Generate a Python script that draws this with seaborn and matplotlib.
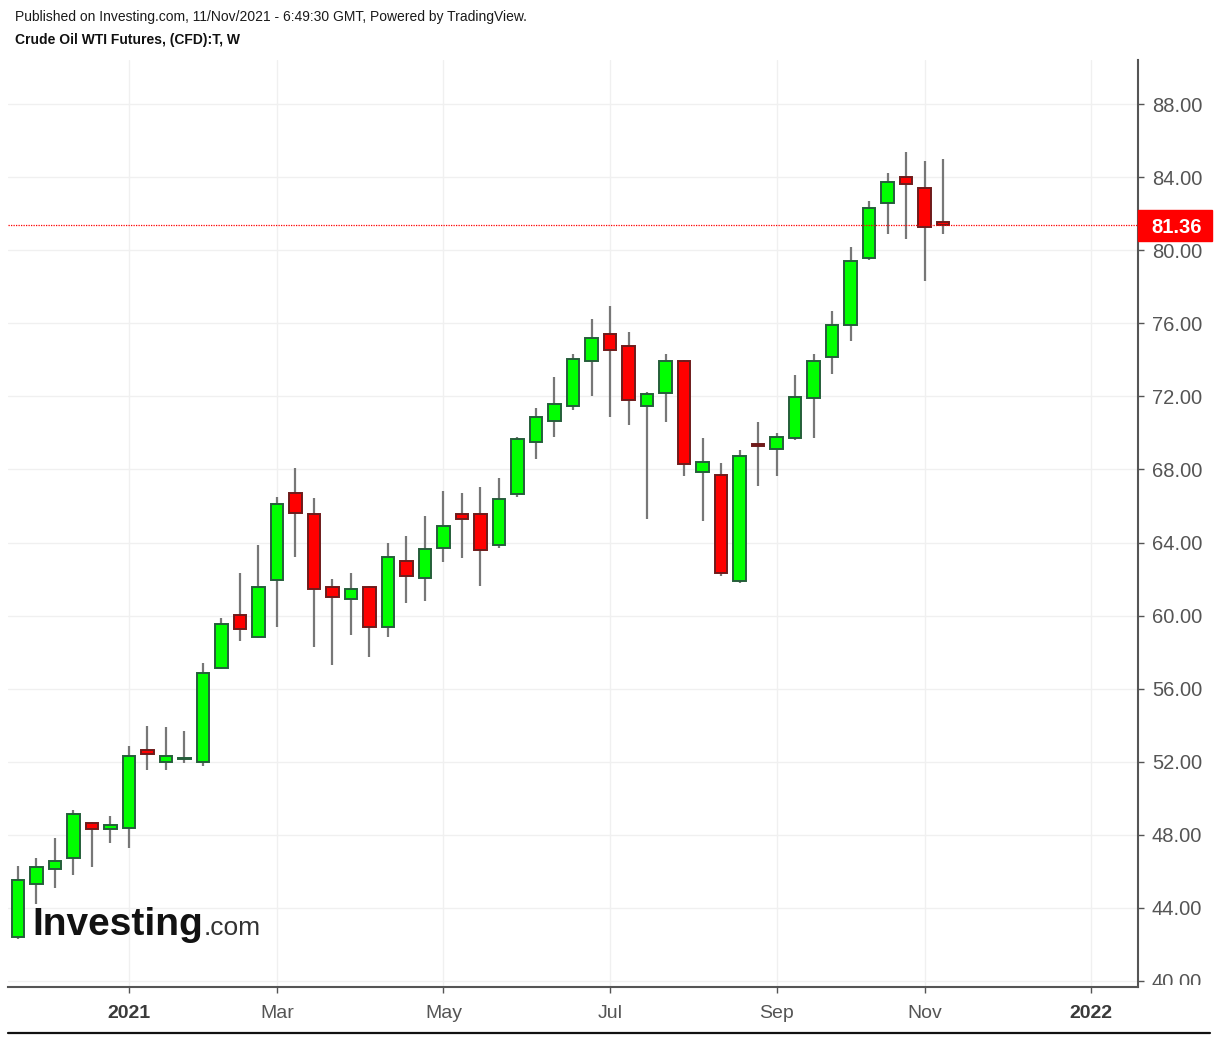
import numpy as np
import pandas as pd
import matplotlib
matplotlib.use("Agg")
import matplotlib.pyplot as plt
import matplotlib.dates as mdates
from matplotlib.patches import Rectangle
from matplotlib.lines import Line2D
import matplotlib.transforms as mtransforms
import seaborn as sns

# ---------------- data (weekly bars) ----------------
week_start = "2020-11-23"
opens = [42.42, 45.31, 46.13, 46.75, 48.63, 48.30, 48.39, 52.64, 51.99, 52.17,
         51.97, 57.11, 60.03, 58.85, 61.95, 66.69, 65.56, 61.58, 60.91, 61.58,
         59.39, 62.99, 62.04, 63.68, 65.56, 65.54, 63.86, 66.65, 69.51, 70.67,
         71.46, 73.95, 75.41, 74.77, 71.47, 72.20, 73.95, 67.88, 67.70, 61.91,
         69.37, 69.12, 69.74, 71.89, 74.14, 75.91, 79.59, 82.56, 84.02, 83.39,
         81.56]
highs = [46.30, 46.72, 47.81, 49.36, 48.70, 49.03, 52.86, 53.97, 53.88, 53.68,
         57.39, 59.85, 62.31, 63.84, 66.51, 68.06, 66.42, 62.00, 62.31, 61.60,
         63.96, 64.36, 65.47, 66.82, 66.69, 67.02, 67.51, 69.79, 71.34, 73.08,
         74.30, 76.23, 76.96, 75.54, 72.25, 74.30, 73.97, 69.70, 68.33, 69.06,
         70.61, 69.97, 73.17, 74.30, 76.66, 80.15, 82.71, 84.25, 85.39, 84.88,
         84.97]
lows = [42.30, 44.20, 45.07, 45.80, 46.22, 47.54, 47.26, 51.55, 51.55, 51.95,
        51.77, 57.05, 58.63, 58.80, 59.36, 63.22, 58.30, 57.30, 58.94, 57.72,
        58.85, 60.67, 60.80, 62.92, 63.14, 61.62, 63.68, 66.51, 68.56, 69.79,
        71.25, 72.04, 70.85, 70.43, 65.29, 70.61, 67.66, 65.19, 62.18, 61.80,
        67.11, 67.64, 69.61, 69.70, 73.21, 75.03, 79.46, 80.87, 80.60, 78.33,
        80.89]
closes = [45.53, 46.26, 46.59, 49.14, 48.30, 48.54, 52.33, 52.41, 52.32, 52.22,
          56.84, 59.52, 59.27, 61.58, 66.09, 65.63, 61.44, 61.03, 61.46, 59.39,
          63.19, 62.17, 63.63, 64.92, 65.29, 63.59, 66.36, 69.65, 70.88, 71.58,
          74.04, 75.17, 74.54, 71.80, 72.11, 73.95, 68.30, 68.43, 62.31, 68.74,
          69.30, 69.76, 71.99, 73.95, 75.91, 79.41, 82.29, 83.71, 83.60, 81.25,
          81.36]
last_price = 81.36
y_ticks = [40, 44, 48, 52, 56, 60, 64, 68, 72, 76, 80, 84, 88]
x_tick_dates = ["2021-01-04", "2021-03-01", "2021-05-03", "2021-07-05",
                "2021-09-06", "2021-11-01", "2022-01-03"]
x_tick_labels = ["2021", "Mar", "May", "Jul", "Sep", "Nov", "2022"]
title_line1 = "Published on Investing.com, 11/Nov/2021 - 6:49:30 GMT, Powered by TradingView."
title_line2 = "Crude Oil WTI Futures, (CFD):T, W"

df = pd.DataFrame({
    "date": pd.date_range(week_start, periods=len(opens), freq="W-MON"),
    "open": opens, "high": highs, "low": lows, "close": closes,
})
df["x"] = mdates.date2num(df["date"])
df["up"] = df["close"] >= df["open"]

# ---------------- style ----------------
sns.set_theme(style="white")
plt.rcParams["font.family"] = ["Liberation Sans", "DejaVu Sans"]

W, H = 1218, 1039
fig = plt.figure(figsize=(W / 100, H / 100), dpi=100)
fig.patch.set_facecolor("white")

ax_l, ax_r, ax_t, ax_b = 8, 1138, 60, 987
ax = fig.add_axes([ax_l / W, 1 - ax_b / H, (ax_r - ax_l) / W, (ax_b - ax_t) / H])
ax.set_facecolor("white")

day_w = 7.0
x0 = df["x"].iloc[0]
ax.set_xlim(x0 - 0.54 * day_w, x0 + 60.54 * day_w)
px_per_unit = (981 - 104) / 48.0
ymin = 40 - (987 - 981) / px_per_unit
ymax = 40 + (981 - 60) / px_per_unit
ax.set_ylim(ymin, ymax)

grid_c = "#f0f0f0"
for yt in y_ticks:
    ax.axhline(yt, color=grid_c, lw=1.0, zorder=0)
xt = mdates.date2num(pd.to_datetime(x_tick_dates))
for xv in xt:
    ax.axvline(xv, color=grid_c, lw=1.0, zorder=0)

# wicks
ax.vlines(df["x"], df["low"], df["high"], color="#777777", lw=1.6, zorder=2)

# bodies
bw = 0.66 * day_w
up = df[df["up"]]
dn = df[~df["up"]]
ax.bar(up["x"], (up["close"] - up["open"]).clip(lower=0.02), bottom=up["open"],
       width=bw, color="#00ff00", edgecolor="#255e3a", linewidth=1.4, zorder=3)
ax.bar(dn["x"], (dn["open"] - dn["close"]).clip(lower=0.02), bottom=dn["close"],
       width=bw, color="#ff0000", edgecolor="#6e1b1b", linewidth=1.4, zorder=3)

# last price dotted line
ax.axhline(last_price, color="#ff0000", lw=0.9, ls=(0, (1, 1)), zorder=4)

# spines
for s in ["top", "left"]:
    ax.spines[s].set_visible(False)
ax.spines["right"].set_color("#555555")
ax.spines["right"].set_linewidth(1.5)
ax.spines["bottom"].set_color("#555555")
ax.spines["bottom"].set_linewidth(1.5)

ax.yaxis.tick_right()
ax.set_yticks(y_ticks)
ax.tick_params(axis="y", which="both", right=True, left=False, length=4,
               width=1, color="#555555", labelright=False, labelleft=False)
ax.set_xticks(xt)
ax.set_xticklabels(x_tick_labels)
ax.tick_params(axis="x", bottom=True, length=4, width=1, color="#555555",
               pad=9, labelsize=14, labelcolor="#555555")
for lbl in ax.get_xticklabels():
    if lbl.get_text() in ("2021", "2022"):
        lbl.set_fontweight("bold")
        lbl.set_color("#3a3a3a")

# price label strip (clipped like the reference)
ax2 = fig.add_axes([ax_r / W, 1 - 985 / H, 80 / W, (985 - ax_t) / H])
ax2.set_ylim(ymin + 2 / px_per_unit, ymax)
ax2.set_xlim(0, 1)
ax2.axis("off")
for yt in y_ticks:
    ax2.text(0.175, yt, f"{yt:.2f}", ha="left", va="center_baseline", fontsize=14.5,
             color="#555555", clip_on=True)
trans = mtransforms.blended_transform_factory(ax2.transAxes, ax2.transData)
box_h = 31 / px_per_unit
ax2.add_patch(Rectangle((0, last_price - box_h / 2), 74 / 80, box_h,
                        transform=trans, color="#ff0000", zorder=5, clip_on=False))
ax2.text(0.48, last_price, f"{last_price:.2f}", ha="center", va="center_baseline",
         fontsize=14.5, fontweight="bold", color="white", zorder=6)

# header texts
fig.text(15 / W, 1 - 17 / H, title_line1, ha="left", va="center",
         fontsize=10, color="#1a1a1a")
fig.text(15 / W, 1 - 40 / H, title_line2, ha="left", va="center",
         fontsize=10, fontweight="bold", color="#111111")

# bottom rule
fig.add_artist(Line2D([8 / W, 1210 / W], [1 - 1033 / H, 1 - 1033 / H],
                      transform=fig.transFigure, color="#111111", lw=1.6))

# watermark logo
t1 = fig.text(32 / W, 1 - 935 / H, "Investing", ha="left", va="baseline",
              fontsize=28, fontweight="bold", color="#121212", zorder=10)
fig.canvas.draw()
bb = t1.get_window_extent(renderer=fig.canvas.get_renderer())
fig.text(bb.x1 / W + 1 / W, 1 - 935 / H, ".com", ha="left", va="baseline",
         fontsize=19, color="#333333", zorder=10)

fig.savefig("out.png", dpi=100, facecolor="white")
